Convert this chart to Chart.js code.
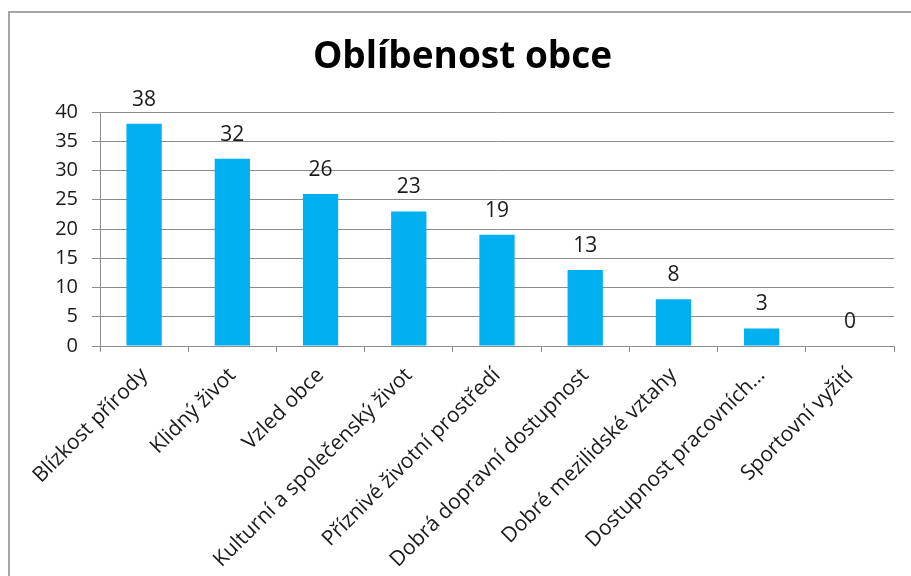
<!DOCTYPE html>
<html lang="cs">
<head>
<meta charset="utf-8">
<title>Oblíbenost obce</title>
<script src="https://cdn.jsdelivr.net/npm/chart.js@4.4.1/dist/chart.umd.min.js"></script>
<style>
    html, body { margin: 0; padding: 0; background: #fff; }
    .wrap { position: relative; width: 911px; height: 576px; overflow: hidden; }
    /* frame of the embedded chart object */
    .frame {
        position: absolute; left: 8px; top: 11px; right: -4px; bottom: -4px;
        border-left: 2px solid #a6a6a6; border-top: 2px solid #a6a6a6;
        pointer-events: none;
    }
    canvas { position: absolute; left: 0; top: 0; }
</style>
</head>
<body>
<div class="wrap">
    <canvas id="chart" width="911" height="576"></canvas>
    <div class="frame"></div>
</div>
<script>
/* ── Data ── */
const categories = [
    'Blízkost přírody',
    'Klidný život',
    'Vzled obce',
    'Kulturní a společenský život',
    'Příznivé životní prostředí',
    'Dobrá dopravní dostupnost',
    'Dobré mezilidské vztahy',
    'Dostupnost pracovních…',
    'Sportovní vyžití'
];
const counts = [38, 32, 26, 23, 19, 13, 8, 3, 0];
const yMin = 0;
const yMax = 40;
const yStep = 5;

const FONT = "'Open Sans', 'Noto Sans', sans-serif";
const TEXT = '#1a1a1a';
const GRID = '#8c8c8c';

// value labels above each bar
const barLabels = {
    id: 'barLabels',
    afterDatasetsDraw(chart) {
        const ctx = chart.ctx;
        const meta = chart.getDatasetMeta(0);
        ctx.save();
        ctx.font = '21px ' + FONT;
        ctx.fillStyle = TEXT;
        ctx.textAlign = 'center';
        ctx.textBaseline = 'middle';
        meta.data.forEach((bar, i) => {
            ctx.fillText(String(counts[i]), bar.x, bar.y - 24);
        });
        ctx.restore();
    }
};

new Chart(document.getElementById('chart'), {
    type: 'bar',
    data: {
        labels: categories,
        datasets: [{
            data: counts,
            backgroundColor: '#00b0f0',
            borderWidth: 0,
            categoryPercentage: 1,
            barPercentage: 0.4
        }]
    },
    options: {
        responsive: false,
        animation: false,
        layout: { padding: { left: 31, right: 17, top: 0, bottom: 0 } },
        plugins: {
            legend: { display: false },
            tooltip: { enabled: false },
            title: {
                display: true,
                text: 'Oblíbenost obce',
                color: '#000',
                font: { family: FONT, size: 37, weight: 'bold', lineHeight: 1.2 },
                padding: { top: 35.6, bottom: 32 }
            }
        },
        scales: {
            y: {
                min: yMin, max: yMax,
                afterFit(scale) { scale.width = 69; },
                ticks: {
                    stepSize: yStep,
                    color: TEXT,
                    padding: 14,
                    font: { family: FONT, size: 20 }
                },
                grid: { color: GRID, lineWidth: 1, tickLength: 8, drawTicks: true },
                border: { color: GRID, width: 1 }
            },
            x: {
                afterFit(scale) { scale.height = 230; },
                ticks: {
                    color: TEXT,
                    minRotation: 45, maxRotation: 45,
                    autoSkip: false,
                    padding: 11,
                    font: { family: FONT, size: 21 }
                },
                grid: { display: true, drawOnChartArea: false, color: GRID, tickLength: 6, offset: true },
                border: { color: GRID, width: 1 }
            }
        }
    },
    plugins: [barLabels]
});
</script>
</body>
</html>
